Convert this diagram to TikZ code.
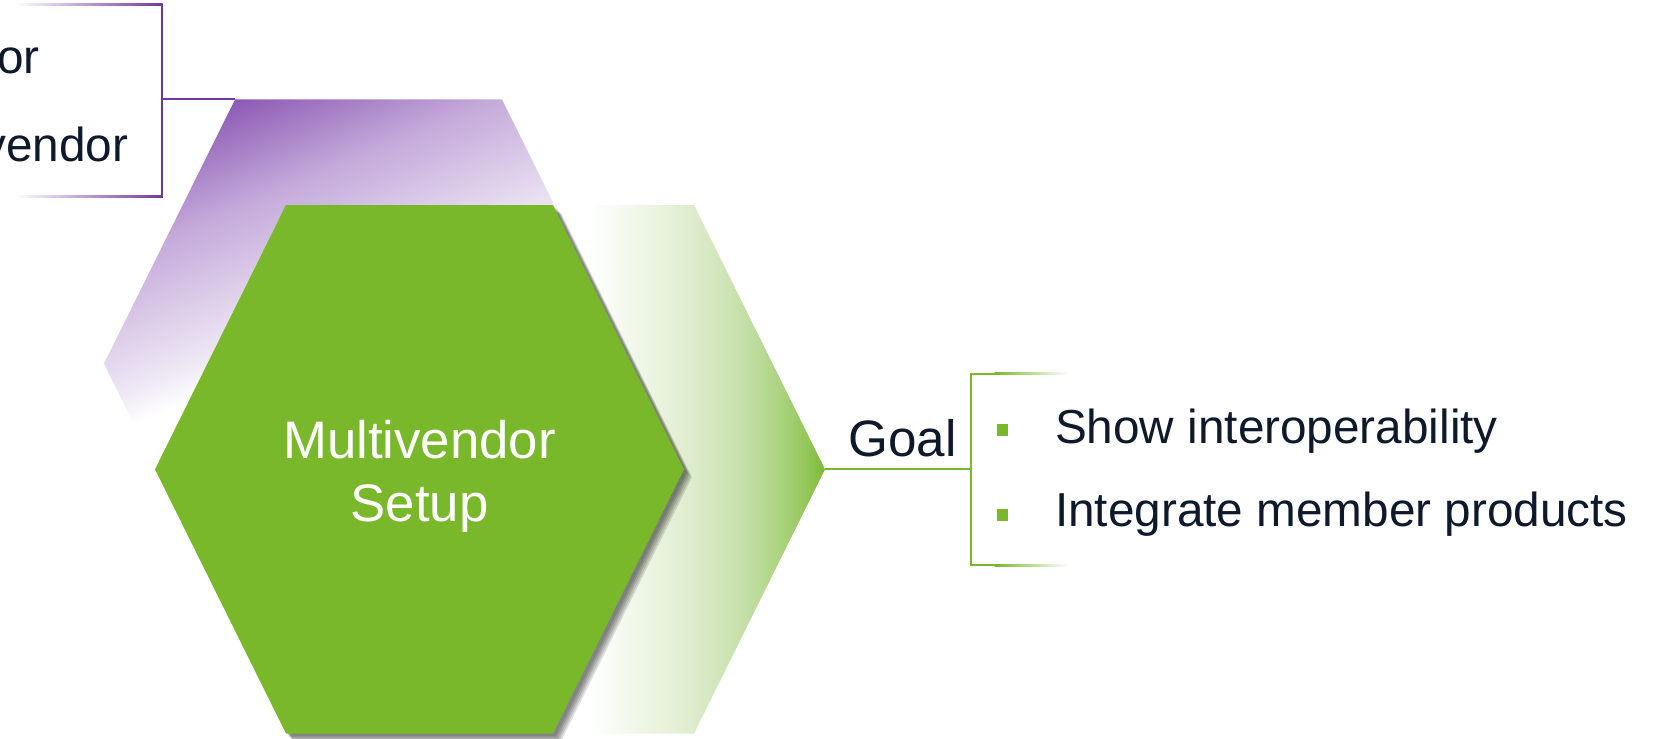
\documentclass[tikz,border=0pt]{standalone}
\usepackage{fontspec}
\setmainfont{Liberation Sans}
\definecolor{mgreen}{RGB}{120,184,42}
\definecolor{txt}{RGB}{14,26,43}
\definecolor{pline}{RGB}{115,53,163}
\definecolor{pA}{RGB}{140,90,180}
\definecolor{pB}{RGB}{196,169,218}
\definecolor{pC}{RGB}{239,233,245}
\definecolor{gA}{RGB}{228,240,215}
\definecolor{gB}{RGB}{211,231,189}
\definecolor{gC}{RGB}{195,222,165}
\definecolor{gD}{RGB}{173,212,130}
\definecolor{gE}{RGB}{148,199,90}
\definecolor{gF}{RGB}{124,185,52}
\pgfdeclareverticalshading{purplefade}{100bp}{color(0bp)=(white); color(25bp)=(white); color(31bp)=(pC); color(55.77bp)=(pB); color(75bp)=(pA); color(100bp)=(pA)}
\pgfdeclarehorizontalshading{greenfade}{100bp}{color(0bp)=(white); color(25bp)=(white); color(42.7bp)=(gA); color(51.55bp)=(gB); color(58.19bp)=(gC); color(64.82bp)=(gD); color(70.8bp)=(gE); color(75bp)=(gF); color(100bp)=(gF)}
\def\hexpath#1#2{({#1-264.5},{#2}) -- ({#1-133.5},{#2-264.2}) -- ({#1+133.5},{#2-264.2}) -- ({#1+264.5},{#2}) -- ({#1+133.5},{#2+264.2}) -- ({#1-133.5},{#2+264.2}) -- cycle}
\begin{document}
\begin{tikzpicture}[x=0.5pt,y=-0.5pt,
  bigtxt/.style={text=txt, inner sep=0pt, font=\fontsize{23.85pt}{28pt}\selectfont},
  bulletsq/.style={fill=mgreen, minimum size=5.6pt, inner sep=0pt},
  pconn/.style={draw=pline, line width=1pt},
  gconn/.style={draw=mgreen, line width=1pt}]
\useasboundingbox (0,0) rectangle (1657,738);
\fill[white] (0,0) rectangle (1657,738);

% named points
\coordinate (pTL) at (235,99.5);
\coordinate (pbM) at (161.7,99.5);
\coordinate (pbT) at (161.7,4.8);
\coordinate (pbB) at (161.7,196.7);
\coordinate (fR) at (825,469.3);
\coordinate (gbM) at (971,469.3);
\coordinate (gbT) at (971,373.5);
\coordinate (gbB) at (971,565);

% purple back hexagon
\begin{scope}
  \clip \hexpath{368.5}{363.7};
  \begin{scope}[transform canvas={rotate around={23:(235,99.5)}}]
    \shade[shading=purplefade] (-600,99.5) rectangle (1100,359.5);
  \end{scope}
\end{scope}

% faded green hexagon
\begin{scope}
  \clip \hexpath{560.5}{469.3};
  \fill[white] (280,200) rectangle (591,740);
  \shade[shading=greenfade] (590,200) rectangle (826,740);
\end{scope}

% shadow of main hexagon
\foreach \d in {1,...,5} {
  \fill[black, opacity=0.12, shift={({1.5+\d*1.3},{1.5+\d*1.3})}] \hexpath{419.5}{469.3};
}
% main hexagon
\fill[mgreen] \hexpath{419.5}{469.3};
\node[text=white, inner sep=0pt, align=center, anchor=base,
  font=\fontsize{26.4pt}{31.15pt}\selectfont] (mv) at (419.5,521) {Multivendor\\Setup};

% purple bracket (top left)
\fill[left color=white, right color=pline] (15,3.8) rectangle (162.7,5.8);
\fill[left color=white, right color=pline] (15,195.7) rectangle (162.7,197.7);
\draw[pconn] (pbT) -- (pbB);
\draw[pconn] (pbM) -- (pTL);
\node[bigtxt, anchor=base east] (tor) at (40.2,74) {or};
\node[bigtxt, anchor=base east] (tvendor) at (128.5,161.7) {vendor};

% green bracket (goal)
\draw[gconn] (fR) -- (gbM);
\draw[gconn] (gbT) -- (gbB);
\fill[mgreen] (970,372.5) rectangle (995,374.5);
\fill[left color=mgreen, right color=white] (994.5,372.5) rectangle (1068,374.5);
\fill[mgreen] (970,564) rectangle (995,566);
\fill[left color=mgreen, right color=white] (994.5,564) rectangle (1068,566);
\node[text=txt, inner sep=0pt, anchor=base west, font=\fontsize{25.6pt}{30pt}\selectfont] (goal) at (848,456.7) {Goal};
\node[bulletsq] (b1) at (1002.5,430) {};
\node[bulletsq] (b2) at (1002.5,515) {};
\node[bigtxt, anchor=base west] (t1) at (1054.7,443.3) {Show interoperability};
\node[bigtxt, anchor=base west] (t2) at (1054.7,526.7) {Integrate member products};
\end{tikzpicture}
\end{document}
